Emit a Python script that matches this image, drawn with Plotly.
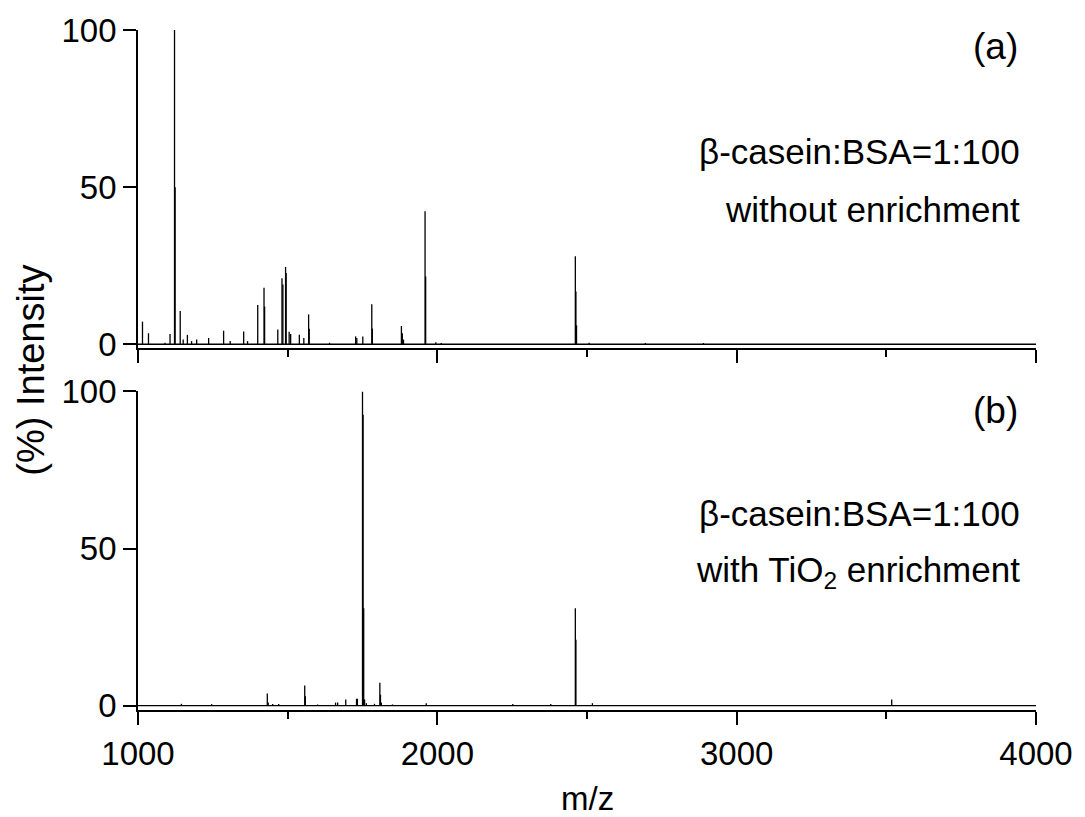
import plotly.graph_objects as go

# ---- data ----
# Panel (a): beta-casein:BSA = 1:100, without enrichment
mz_a = [1015, 1035, 1090, 1107, 1122, 1124, 1141, 1151, 1165, 1179, 1196, 1236, 1286, 1308,
        1353, 1366, 1400, 1421, 1423, 1467, 1481, 1484, 1493, 1495, 1505, 1510, 1539, 1554,
        1570, 1572, 1640, 1727, 1731, 1751, 1781, 1783, 1880, 1883, 1887, 1959, 1961, 1995,
        2013, 2461, 2463, 2465, 2507, 2695, 2889]
int_a = [7.2, 3.5, 0.5, 3.3, 100, 50, 10.6, 1.5, 3.0, 1.0, 1.5, 2.0, 4.3, 1.0,
         4.1, 1.0, 12.5, 18, 12, 4.7, 21, 19, 24.6, 22.7, 4.0, 3.3, 3.0, 2.0,
         9.5, 4.9, 0.5, 2.5, 2.0, 2.5, 12.7, 5.0, 5.8, 3.5, 1.5, 42.3, 21.6, 0.6,
         0.4, 28, 16.8, 6.0, 0.5, 0.4, 0.4]

# Panel (b): beta-casein:BSA = 1:100, with TiO2 enrichment
mz_b = [1145, 1246, 1432, 1435, 1450, 1470, 1557, 1559, 1600, 1660, 1667, 1694, 1730, 1733,
        1750, 1752, 1754, 1757, 1763, 1790, 1808, 1810, 1813, 1850, 1963, 2252, 2379,
        2461, 2463, 2518, 3518]
int_b = [0.6, 0.5, 3.9, 1.0, 0.5, 0.5, 6.4, 3.0, 0.4, 1.0, 1.0, 2.0, 2.2, 2.2,
         100, 92.6, 31, 2.0, 0.8, 0.6, 7.3, 3.5, 1.0, 0.4, 0.8, 0.5, 0.5,
         31, 21, 0.8, 2.0]

x_range = [1000, 4000]
x_ticks = [1000, 2000, 3000, 4000]
y_ticks = [0, 50, 100]

panel_labels = ["(a)", "(b)"]
line1 = ["β-casein:BSA=1:100", "β-casein:BSA=1:100"]
line2 = ["without enrichment", "with TiO<sub>2</sub> enrichment"]

FONT = "Liberation Sans, Arial, sans-serif"


def sticks(mz, inten):
    xs, ys = [], []
    for m, v in zip(mz, inten):
        xs += [m, m, None]
        ys += [0, v, None]
    return xs, ys


fig = go.Figure()

for i, (mz, inten) in enumerate([(mz_a, int_a), (mz_b, int_b)]):
    xa = "x" if i == 0 else "x2"
    ya = "y" if i == 0 else "y2"
    fig.add_trace(go.Scatter(x=x_range, y=[0, 0], mode="lines",
                             line=dict(color="black", width=1.3),
                             xaxis=xa, yaxis=ya, showlegend=False, hoverinfo="skip"))
    xs, ys = sticks(mz, inten)
    fig.add_trace(go.Scatter(x=xs, y=ys, mode="lines",
                             line=dict(color="black", width=1.3),
                             xaxis=xa, yaxis=ya, showlegend=False))

axis_common = dict(showline=True, linecolor="black", linewidth=1.8, ticks="outside",
                   tickcolor="black", tickwidth=1.8, showgrid=False, zeroline=False,
                   tickfont=dict(family=FONT, size=33, color="black"))

fig.update_layout(
    width=1085, height=817,
    paper_bgcolor="white", plot_bgcolor="white",
    margin=dict(l=138, r=40, t=30, b=107),
    xaxis=dict(domain=[0, 1], range=x_range, tickvals=x_ticks, showticklabels=False,
               ticklen=13, anchor="y",
               minor=dict(ticks="outside", dtick=500, ticklen=7, tickwidth=1.5, tickcolor="black"),
               **axis_common),
    yaxis=dict(domain=[0.5324, 1], range=[-1.18, 100], tickvals=y_ticks, ticklen=13,
               anchor="x", **axis_common),
    xaxis2=dict(domain=[0, 1], range=x_range, tickvals=x_ticks, ticklen=13, anchor="y2",
                minor=dict(ticks="outside", dtick=500, ticklen=7, tickwidth=1.5, tickcolor="black"),
                **axis_common),
    yaxis2=dict(domain=[0, 0.4685], range=[-1.37, 100], tickvals=y_ticks, ticklen=13,
                anchor="x2", **axis_common),
)

ann_font = dict(family=FONT, size=35, color="black")
ys_lab = [(94.6, 61.4, 42.9), (93.8, 61.0, 42.5)]
for i in range(2):
    yr = "y" if i == 0 else "y2"
    yl, y1, y2 = ys_lab[i]
    fig.add_annotation(x=0.9546, y=yl, xref="paper", yref=yr, text=panel_labels[i],
                       showarrow=False, font=dict(family=FONT, size=37, color="black"),
                       xanchor="center", yanchor="middle")
    fig.add_annotation(x=0.984, y=y1, xref="paper", yref=yr, text=line1[i],
                       showarrow=False, font=ann_font, xanchor="right", yanchor="middle")
    fig.add_annotation(x=0.984, y=y2, xref="paper", yref=yr, text=line2[i],
                       showarrow=False, font=ann_font, xanchor="right", yanchor="middle")

fig.add_annotation(x=0.5, y=-0.13, xref="paper", yref="paper", text="m/z",
                   showarrow=False, font=dict(family=FONT, size=33, color="black"),
                   xanchor="center", yanchor="middle")
fig.add_annotation(x=-0.1195, y=0.5, xref="paper", yref="paper", text="(%) Intensity",
                   showarrow=False, textangle=-90,
                   font=dict(family=FONT, size=38, color="black"),
                   xanchor="center", yanchor="middle")

fig.write_html("out.html", config={"displayModeBar": False},
               post_script="document.body.style.margin='0';document.body.style.overflow='hidden';")
